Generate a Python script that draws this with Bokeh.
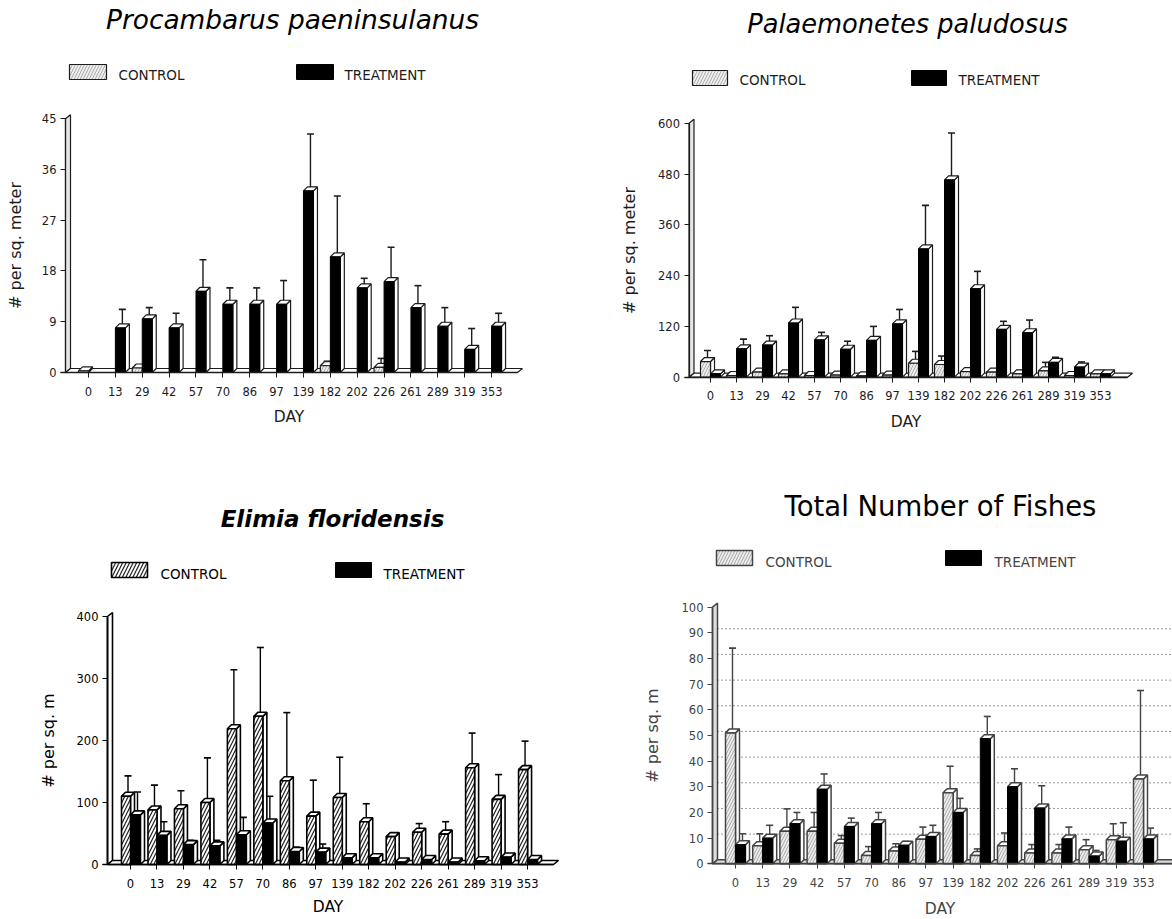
from bokeh.plotting import figure
from bokeh.layouts import column, row
from bokeh.models import Range1d, LinearAxis, FixedTicker, Label
from bokeh.embed import file_html
from bokeh.resources import INLINE

DAYS = ["0", "13", "29", "42", "57", "70", "86", "97", "139", "182", "202", "226", "261", "289", "319", "353"]

A_TITLE = "Procambarus paeninsulanus"
A_YTICKS = [0, 9, 18, 27, 36, 45]
A_CONTROL = [0.3, 0, 0.8, 0, 0, 0, 0, 0, 0, 1.2, 0, 0.9, 0, 0, 0, 0]
A_CONTROL_TOP = [0.3, 0, 0.8, 0, 0, 0, 0, 0, 0, 2.0, 0, 2.5, 0, 0, 0, 0]
A_TREAT = [0, 7.9, 9.5, 7.9, 14.4, 12.1, 12.1, 12.1, 32.2, 20.5, 15.0, 16.1, 11.5, 8.2, 4.1, 8.2]
A_TREAT_TOP = [0, 11.2, 11.5, 10.5, 20.0, 15.0, 15.0, 16.3, 42.3, 31.3, 16.7, 22.2, 15.4, 11.5, 7.8, 10.5]

B_TITLE = "Palaemonetes paludosus"
B_YTICKS = [0, 120, 240, 360, 480, 600]
B_CONTROL = [37, 4, 12, 8, 4, 5, 3, 5, 33, 30, 13, 12, 8, 15, 4, 8]
B_CONTROL_TOP = [63, 6, 20, 14, 6, 8, 5, 7, 61, 50, 20, 20, 16, 35, 6, 10]
B_TREAT = [8, 67, 76, 128, 88, 66, 87, 126, 303, 466, 209, 113, 105, 35, 24, 8]
B_TREAT_TOP = [16, 90, 98, 165, 106, 85, 120, 160, 406, 577, 250, 132, 135, 47, 36, 12]

C_TITLE = "Elimia floridensis"
C_YTICKS = [0, 100, 200, 300, 400]
C_CONTROL = [110, 88, 90, 100, 219, 239, 135, 78, 108, 69, 45, 52, 49, 156, 105, 153]
C_CONTROL_TOP = [143, 128, 119, 172, 314, 350, 245, 136, 173, 98, 48, 66, 69, 212, 145, 199]
C_TREAT = [80, 47, 32, 30, 48, 67, 21, 20, 11, 11, 4, 8, 4, 6, 12, 8]
C_TREAT_TOP = [117, 69, 39, 39, 76, 110, 28, 33, 16, 14, 6, 10, 5, 7, 15, 10]

D_TITLE = "Total Number of Fishes"
D_YTICKS = [0, 10, 20, 30, 40, 50, 60, 70, 80, 90, 100]
D_GRID = [10, 20, 30, 40, 50, 60, 70, 80, 90]
D_CONTROL = [51, 7, 12.7, 12.7, 8, 3.2, 5, 9.6, 27.7, 3.2, 7, 4.2, 4.2, 5.5, 9.4, 33]
D_CONTROL_TOP = [84, 11.7, 21.4, 20, 11, 6.7, 7.8, 14.3, 38, 5.8, 12, 7.5, 7.5, 9.4, 15.6, 67.5]
D_TREAT = [7.4, 10, 15.6, 29, 14.5, 15.6, 7.2, 10.6, 20, 48.7, 30, 21.7, 9.7, 3, 8.8, 9.7]
D_TREAT_TOP = [11.7, 15, 20, 35, 17.8, 20, 8.7, 15, 25.5, 57.4, 37, 30.4, 14.3, 5.2, 16, 13.9]

FONT = "DejaVu Sans"
DEPTH = 4


def panel(fx, fy, W, H, t0, step, y0, ppu, wall, floor_end, yticks, ylabel,
          control, control_top, treat, treat_top, title, title_pos, title_size, title_style,
          legend, ink="#1c1c1c", hatch=("#9a9a9a", 6, 0.8, "#eeeeee"), ctrl_w=10, grid=None,
          floor_fill="white", wall_fill="#e6e6e6", ystand=14, xstand=9, lw=1.2):
    xr = Range1d((fx - t0) / step, (fx + W - t0) / step)
    yr = Range1d(-(fy + H - y0) / ppu, (y0 - fy) / ppu)
    p = figure(width=W, height=H, x_range=xr, y_range=yr, output_backend="svg", toolbar_location=None,
               min_border=0, x_axis_type=None, y_axis_type=None, outline_line_color=None)
    p.grid.visible = False

    X = lambda px: (px - t0) / step
    Y = lambda py: (y0 - py) / ppu
    dx, dy = DEPTH / step, DEPTH / ppu
    bw = 10 / step
    cw = ctrl_w / step
    n = len(DAYS)
    ymax = yticks[-1]

    # back wall and floor
    p.patch([X(wall), X(wall + 5), X(wall + 5), X(wall)], [0, dy, ymax + dy, ymax],
            fill_color=wall_fill, line_color=ink, line_width=lw)
    p.patch([X(wall), X(floor_end), X(floor_end + 5), X(wall + 5)], [0, 0, dy, dy],
            fill_color=floor_fill, line_color=ink, line_width=lw)
    if grid:
        p.segment([X(wall + 5)] * len(grid), [g + dy for g in grid], [X(fx + W)] * len(grid), [g + dy for g in grid],
                  line_color="#333333", line_width=1, line_dash="1 3")

    def bars(idx, lefts, widths, vals, tops, front):
        keep = [i for i in idx if vals[i] > 0]
        # error stems and caps
        cx = [lefts[i] + widths / 2 + dx / 2 for i in keep]
        stem_bot = [vals[i] + dy / 2 for i in keep]
        stem_top = [tops[i] for i in keep]
        cap = 3.5 / step
        p.segment(cx, stem_bot, cx, stem_top, line_color=ink, line_width=1.4)
        p.segment([c - cap for c in cx], stem_top, [c + cap for c in cx], stem_top, line_color=ink, line_width=1.6)
        l = [lefts[i] for i in keep]
        r = [lefts[i] + widths for i in keep]
        t = [vals[i] for i in keep]
        p.patches([[a, a + dx, b + dx, b] for a, b in zip(r, r)],
                  [[0, dy, v + dy, v] for v in t], fill_color="white", line_color=ink, line_width=lw)
        p.patches([[a, a + dx, b + dx, b] for a, b in zip(l, r)],
                  [[v, v + dy, v + dy, v] for v in t], fill_color="white", line_color=ink, line_width=lw)
        if front == "hatch":
            p.quad(left=l, right=r, top=t, bottom=[0] * len(t), fill_color=hatch[3], line_color=ink, line_width=lw,
                   hatch_pattern="right_diagonal_line", hatch_color=hatch[0], hatch_scale=hatch[1], hatch_weight=hatch[2])
        else:
            p.quad(left=l, right=r, top=t, bottom=[0] * len(t), fill_color="black", line_color="black", line_width=1)

    bars(range(n), [i - cw for i in range(n)], cw, control, control_top, "hatch")
    bars(range(n), [float(i) for i in range(n)], bw, treat, treat_top, "black")

    # axes
    ya = LinearAxis(fixed_location=X(wall), ticker=FixedTicker(ticks=yticks), bounds=(0, ymax),
                    axis_label=ylabel, axis_label_text_font=FONT, axis_label_text_font_size="16px",
                    axis_label_text_font_style="normal", axis_label_text_color=ink, axis_label_standoff=ystand,
                    major_label_text_font=FONT, major_label_text_font_size="11.5px", major_label_text_color=ink,
                    major_tick_out=5, major_tick_in=0, minor_tick_out=0, minor_tick_in=0,
                    major_label_standoff=4, axis_line_color=ink, major_tick_line_color=ink, axis_line_width=lw)
    xa = LinearAxis(fixed_location=0, ticker=FixedTicker(ticks=list(range(n))),
                    major_label_overrides={i: d for i, d in enumerate(DAYS)},
                    bounds=(X(wall - 5), X(min(floor_end, fx + W))),
                    axis_label="DAY", axis_label_text_font=FONT, axis_label_text_font_size="15.5px",
                    axis_label_text_font_style="normal", axis_label_text_color=ink, axis_label_standoff=xstand,
                    major_label_text_font=FONT, major_label_text_font_size="11.5px", major_label_text_color=ink,
                    major_tick_out=5, major_tick_in=0, minor_tick_out=0, minor_tick_in=0,
                    major_label_standoff=9, axis_line_color=ink, major_tick_line_color=ink, axis_line_width=1.4)
    p.add_layout(ya, "left")
    p.add_layout(xa, "below")

    # legend
    (b1, t1, w1, h1, b2, t2, ty) = legend
    p.quad(left=[X(b1)], right=[X(b1 + w1)], top=[Y(t1)], bottom=[Y(t1 + h1)], fill_color=hatch[3], line_color=ink,
           line_width=lw, hatch_pattern="right_diagonal_line", hatch_color=hatch[0], hatch_scale=hatch[1], hatch_weight=hatch[2])
    p.quad(left=[X(b2)], right=[X(b2 + w1)], top=[Y(t1)], bottom=[Y(t1 + h1)], fill_color="black", line_color="black")
    for txt, tx in (("CONTROL", t2[0]), ("TREATMENT", t2[1])):
        p.add_layout(Label(x=X(tx), y=Y(ty), text=txt, text_font=FONT, text_font_size="13.5px", text_color=ink,
                           text_baseline="middle", text_align="left"))
    # title
    p.add_layout(Label(x=X(title_pos[0]), y=Y(title_pos[1]), text=title, text_font=FONT, text_font_size=title_size,
                       text_font_style=title_style, text_color="black", text_baseline="middle", text_align="center"))
    return p


a = panel(0, 0, 586, 459, 88, 26.87, 372, 5.64, 65, 517, A_YTICKS, "# per sq. meter",
          A_CONTROL, A_CONTROL_TOP, A_TREAT, A_TREAT_TOP, A_TITLE, (292, 19), "26.4px", "italic",
          (69, 64, 37, 15, 296, (118, 344), 74), ystand=14, xstand=9)
b = panel(586, 0, 586, 459, 710, 26.0, 376.7, 0.4233, 688.5, 1127, B_YTICKS, "# per sq. meter",
          B_CONTROL, B_CONTROL_TOP, B_TREAT, B_TREAT_TOP, B_TITLE, (907, 23), "25.7px", "italic",
          (692, 70, 35, 15, 911, (739, 958), 79), ystand=17, xstand=9)
c = panel(0, 459, 586, 460, 130, 26.47, 864, 0.62, 107, 553, C_YTICKS, "# per sq. m",
          C_CONTROL, C_CONTROL_TOP, C_TREAT, C_TREAT_TOP, C_TITLE, (332, 518), "23px", "bold italic",
          (111, 562, 36, 15, 335, (160, 383), 573), ink="#000000", hatch=("#222222", 7, 1.2, "white"), ctrl_w=9,
          wall_fill="white", ystand=16, xstand=7, lw=1.6)
d = panel(586, 459, 586, 460, 735, 27.2, 863.3, 2.567, 712, 1175, D_YTICKS, "# per sq. m",
          D_CONTROL, D_CONTROL_TOP, D_TREAT, D_TREAT_TOP, D_TITLE, (940, 505), "27.5px", "normal",
          (716, 550, 36, 15, 945, (765, 994), 561), ink="#444444", hatch=("#9a9a9a", 6, 0.8, "#ebebeb"),
          grid=D_GRID, floor_fill="#dddddd", wall_fill="#dddddd", ystand=17, xstand=10, lw=1.5)

layout = column(row(a, b, spacing=0), row(c, d, spacing=0), spacing=0)
open("out.html", "w").write(file_html(layout, INLINE))
